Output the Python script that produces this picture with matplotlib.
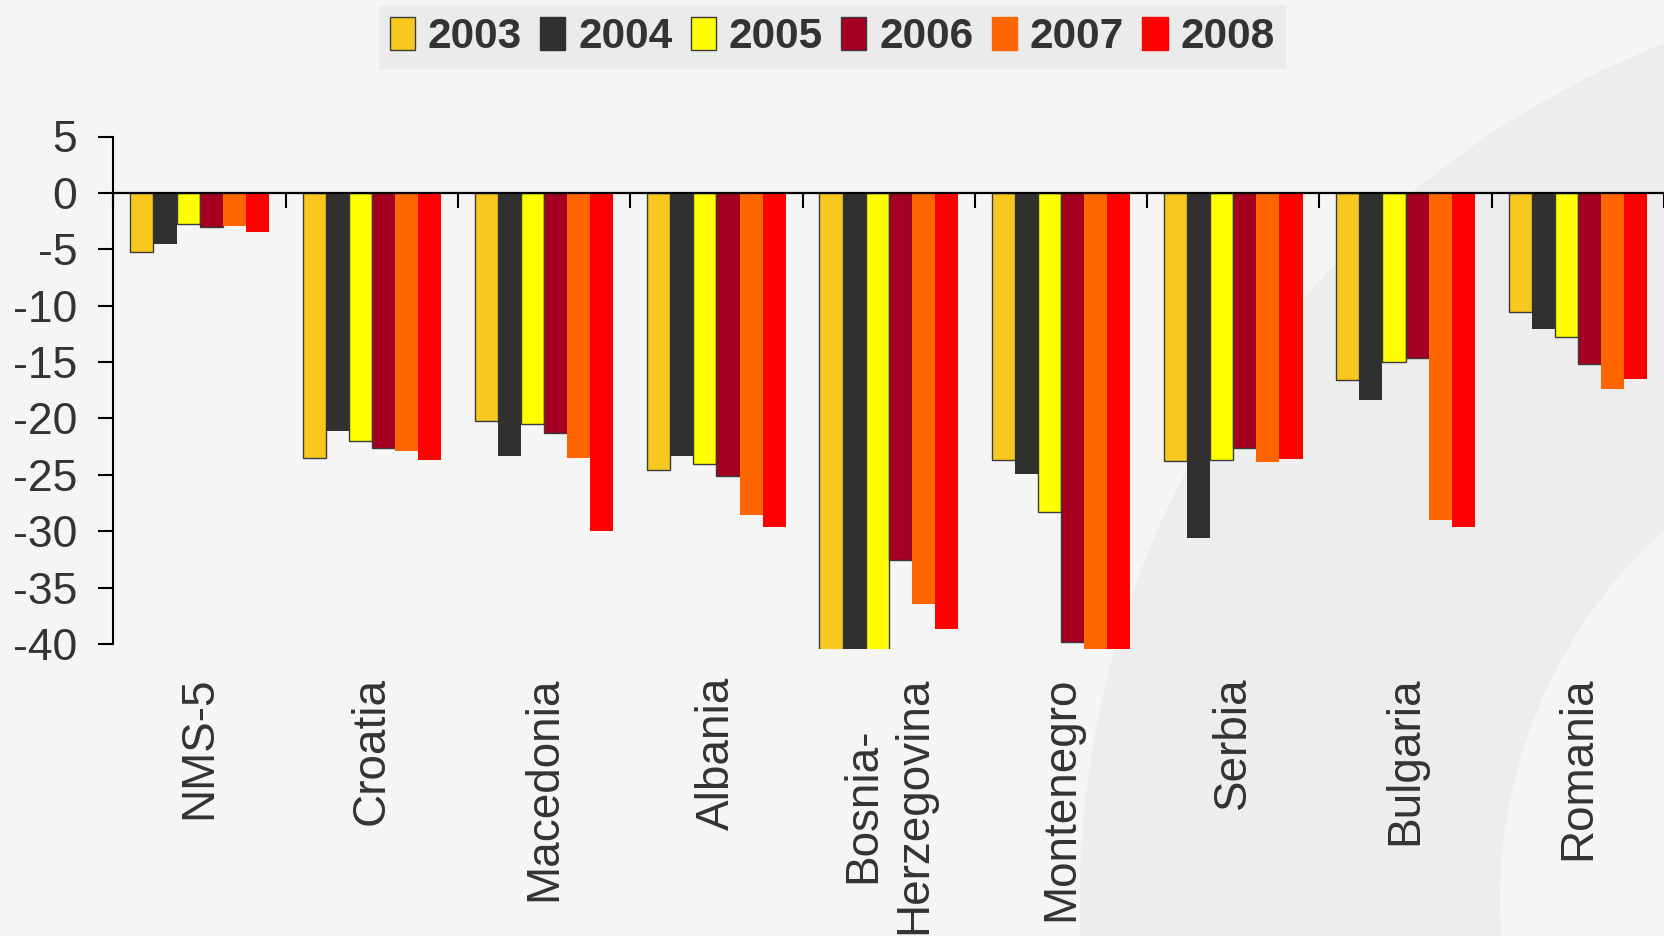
import matplotlib as mpl
import matplotlib.pyplot as plt
import numpy as np
from matplotlib.patches import Wedge, Patch

mpl.rcParams['font.family'] = ['Liberation Sans', 'DejaVu Sans']
mpl.rcParams['axes.unicode_minus'] = False

countries = ['NMS-5', 'Croatia', 'Macedonia', 'Albania', 'Bosnia-\nHerzegovina',
             'Montenegro', 'Serbia', 'Bulgaria', 'Romania']
years = ['2003', '2004', '2005', '2006', '2007', '2008']

vals_2003 = [-5.2, -23.5, -20.2, -24.6, -42.0, -23.7, -23.8, -16.6, -10.6]
vals_2004 = [-4.5, -21.1, -23.3, -23.3, -44.0, -24.9, -30.6, -18.4, -12.1]
vals_2005 = [-2.8, -22.0, -20.5, -24.0, -41.5, -28.3, -23.7, -15.0, -12.8]
vals_2006 = [-3.0, -22.6, -21.3, -25.1, -32.6, -39.8, -22.6, -14.6, -15.2]
vals_2007 = [-2.9, -22.9, -23.5, -28.6, -36.5, -41.0, -23.9, -29.0, -17.4]
vals_2008 = [-3.5, -23.7, -30.0, -29.6, -38.7, -42.5, -23.6, -29.6, -16.5]
series = [vals_2003, vals_2004, vals_2005, vals_2006, vals_2007, vals_2008]

colors = ['#F8C81E', '#303030', '#FFFF00', '#A50021', '#FF6600', '#FF0000']
edged = [True, False, True, True, False, False]
text_col = '#333333'

fig = plt.figure(figsize=(16.64, 9.36), dpi=100, facecolor='#F5F5F5')

# faint ring in the background
ring = Wedge((20.0, 0.36), 9.2, 0, 360, width=4.2, transform=fig.dpi_scale_trans,
             facecolor='#EDEDED', edgecolor='none', zorder=0)
fig.add_artist(ring)

ax = fig.add_axes([113.5 / 1664, 1 - 649 / 936, 1 - 113.5 / 1664, (649 - 136.5) / 936])
ax.set_facecolor('none')

x = np.arange(len(countries)) + 0.5
w = 0.134
for k, (vals, c, e) in enumerate(zip(series, colors, edged)):
    ax.bar(x + (k - 2.5) * w, vals, width=w, color=c,
           edgecolor='#3A3A3A' if e else c, linewidth=1.0 if e else 0)

ax.set_xlim(0, len(countries))
ax.set_ylim(-40.45, 5)
ax.set_yticks(np.arange(-40, 6, 5))
ax.set_xticks(np.arange(0, len(countries) + 1))
ax.set_xticklabels([])

for s in ['top', 'right']:
    ax.spines[s].set_visible(False)
ax.spines['left'].set_bounds(-40, 5)
ax.spines['left'].set_linewidth(1.5)
ax.spines['bottom'].set_position(('data', 0))
ax.spines['bottom'].set_linewidth(1.6)
ax.spines['bottom'].set_zorder(3)

ax.tick_params(axis='y', direction='out', length=11, width=1.5, pad=15,
               labelsize=32, labelcolor=text_col)
ax.tick_params(axis='x', direction='out', length=11, width=1.5)

for xi, name in zip(x, countries):
    ax.text(xi, -42.9, name, rotation=90, ha='center', va='top',
            multialignment='center', fontsize=33, color=text_col,
            transform=ax.transData, clip_on=False, linespacing=1.2)

handles = [Patch(facecolor=c, edgecolor='#3A3A3A' if e else c, linewidth=1.0)
           for c, e in zip(colors, edged)]
leg = fig.legend(handles, years, loc='upper center', bbox_to_anchor=(0.5, 1 - 6 / 936),
                 ncol=6, frameon=True, fancybox=False, facecolor='#EBEBEB', edgecolor='#EBEBEB',
                 framealpha=1, handlelength=0.6, handleheight=0.85, handletextpad=0.3,
                 columnspacing=0.43, borderpad=0.25, borderaxespad=0,
                 prop={'size': 30.5, 'weight': 'bold'})
for t in leg.get_texts():
    t.set_color(text_col)

fig.savefig('out.png', dpi=100, facecolor=fig.get_facecolor())
